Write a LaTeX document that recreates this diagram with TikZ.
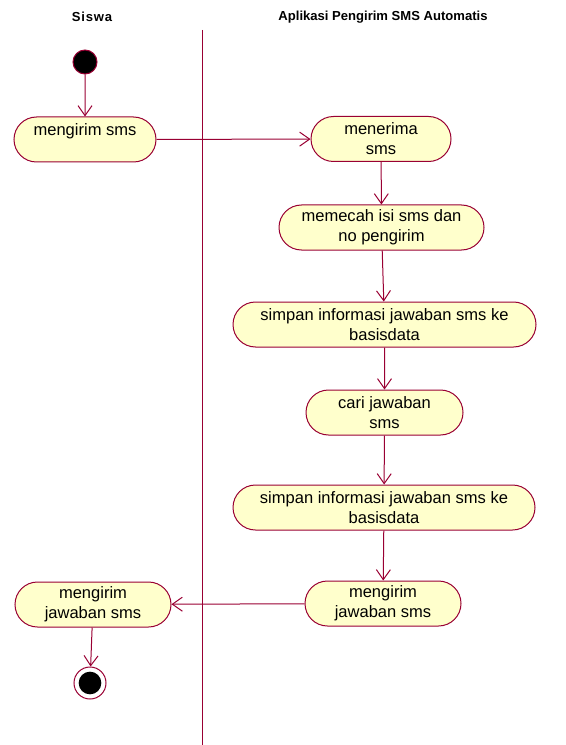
\documentclass[tikz,border=0pt]{standalone}
\usepackage{fontspec}
\setmainfont{Liberation Sans}
\usetikzlibrary{shapes.misc,arrows.meta}
\definecolor{umlred}{RGB}{153,0,51}
\definecolor{umlfill}{RGB}{255,255,204}
\tikzset{
  act/.style={rounded rectangle, draw=umlred, fill=umlfill, line width=0.75pt,
    minimum height=33.75pt, inner sep=0pt, align=center,
    font=\fontsize{12.4}{15}\selectfont, text=black},
  flow/.style={draw=umlred, line width=0.75pt, -{Straight Barb[length=7.5pt,width=10.5pt]}},
  lane/.style={font=\fontsize{9.8}{11}\selectfont\bfseries, text=black},
}
\begin{document}
\begin{tikzpicture}[x=0.75pt,y=-0.75pt]
\useasboundingbox (0,0) rectangle (565,745);
\node[lane] (t1) at (92,17) {S\kern0.6pt i\kern0.6pt s\kern0.6pt w\kern0.6pt a};
\node[lane] (t2) at (383,17) {Aplikasi Pengirim SMS Automatis};
\coordinate (dtop) at (202,30);
\coordinate (dbot) at (202,745);
\draw[umlred, line width=0.75pt] (dtop) -- (dbot);

\node[circle, fill=black, draw=umlred, line width=0.75pt, minimum size=18pt, inner sep=0pt] (start) at (85,62) {};
\node[act, minimum width=106.5pt] (a1) at (85,139.5) {mengirim sms\\~};
\node[act, minimum width=105pt] (a2) at (381,139) {menerima\\sms};
\node[act, minimum width=153.75pt] (a3) at (381.5,227.5) {memecah isi sms dan\\no pengirim};
\node[act, minimum width=227.25pt] (a4) at (384.5,324.5) {simpan informasi jawaban sms ke\\basisdata};
\node[act, minimum width=117.75pt] (a5) at (384.5,412.5) {cari jawaban\\sms};
\node[act, minimum width=226.5pt] (a6) at (384,507.5) {simpan informasi jawaban sms ke\\basisdata};
\node[act, minimum width=117pt] (a7) at (383,603.5) {mengirim\\jawaban sms};
\node[act, minimum width=117pt] (a8) at (93,604.5) {mengirim\\jawaban sms};
\node[circle, draw=umlred, fill=white, line width=0.75pt, minimum size=24pt, inner sep=0pt] (end) at (90,683) {};
\node[circle, fill=black, minimum size=17pt, inner sep=0pt] (endin) at (90,683) {};

\draw[flow] (start) -- (a1);
\draw[flow] (a1) -- (a2);
\draw[flow] (a2) -- (a3);
\draw[flow] (a3) -- (a4);
\draw[flow] (a4) -- (a5);
\draw[flow] (a5) -- (a6);
\draw[flow] (a6) -- (a7);
\draw[flow] (a7) -- (a8);
\draw[flow] (a8) -- (end);
\end{tikzpicture}
\end{document}
